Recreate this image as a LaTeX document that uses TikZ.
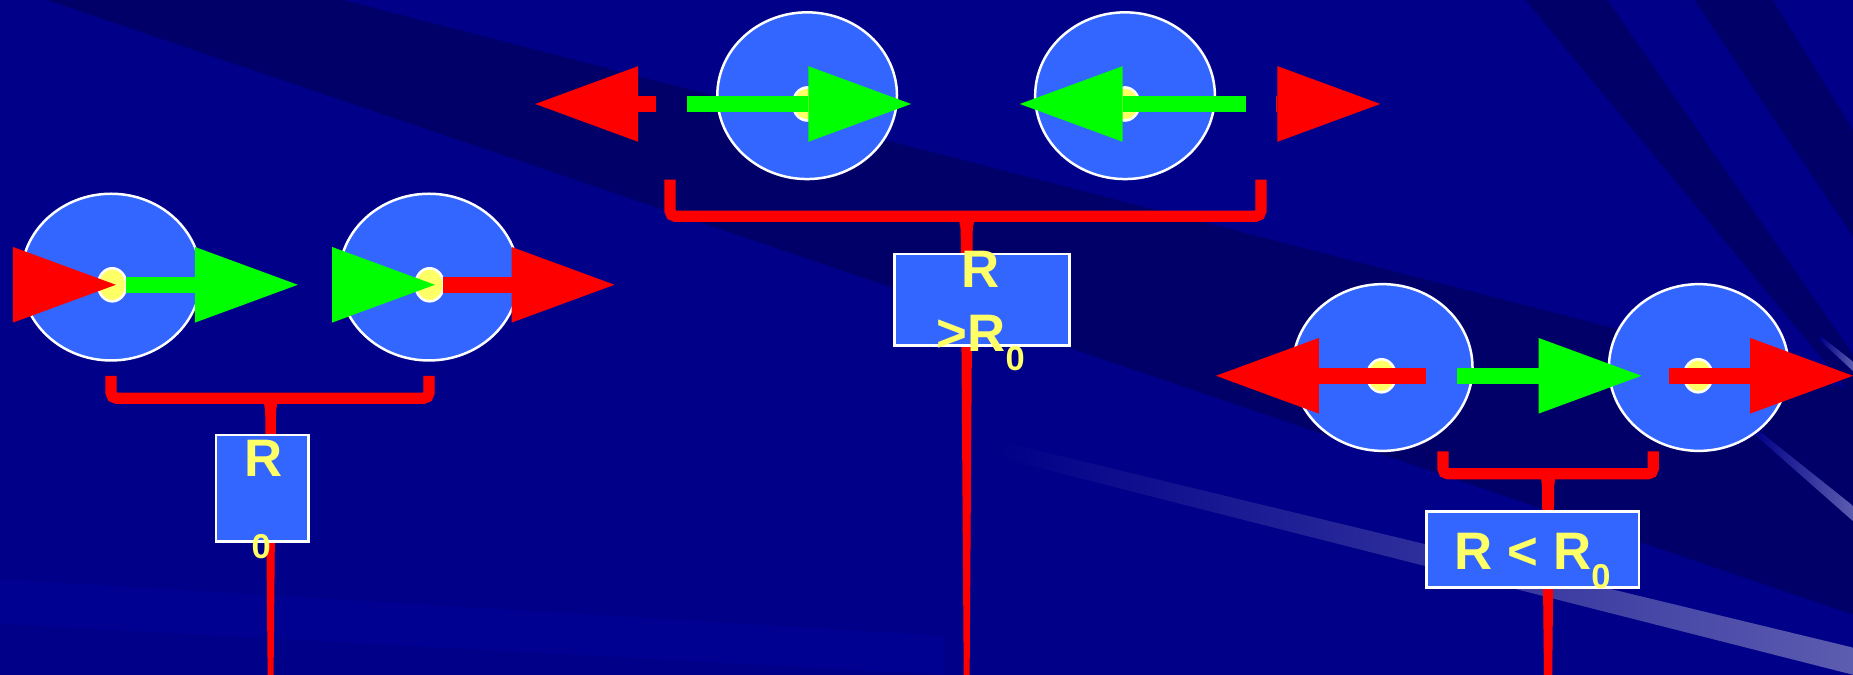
\documentclass[tikz,border=0pt]{standalone}
\usepackage{fontspec}
\setmainfont{Liberation Sans}
\usetikzlibrary{arrows.meta,shapes.geometric}

\definecolor{bgnavy}{RGB}{0,0,136}
\definecolor{bgdeep}{RGB}{0,0,104}
\definecolor{bglight}{RGB}{0,0,145}
\definecolor{beam}{RGB}{92,92,176}
\definecolor{ballblue}{RGB}{51,102,255}
\definecolor{dotyellow}{RGB}{255,255,102}
\definecolor{forcered}{RGB}{255,0,0}
\definecolor{forcegreen}{RGB}{0,255,0}

\newcommand{\subidx}[1]{\raisebox{-0.16cm}{\fontsize{8.3}{10}\selectfont #1}}
% tapered stem under a bracket: x, y of bar, top half width, neck half width, foot half width
\newcommand{\drawstem}[5]{%
  \fill[forcered] ({#1-#3},#2) .. controls ({#1-#4},{#2+8}) .. ({#1-#4},{#2+25})
    -- ({#1-#5},571) -- ({#1+#5},571) -- ({#1+#4},{#2+25})
    .. controls ({#1+#4},{#2+8}) .. ({#1+#3},#2) -- cycle;}

\tikzset{
  ball/.style={ellipse, draw=white, line width=0.6pt, fill=ballblue, inner sep=0pt,
    minimum width=1.52cm, minimum height=1.41cm},
  core/.style={ellipse, draw=white, line width=0.6pt, fill=dotyellow, inner sep=0pt,
    minimum width=0.24cm, minimum height=0.28cm},
  panel/.style={draw=white, line width=0.6pt, fill=ballblue, inner sep=0pt},
  txt/.style={text=dotyellow, inner sep=0pt, font=\bfseries\fontsize{12.7}{15.2}\selectfont},
  brace/.style={draw=forcered, line width=0.095cm, rounded corners=0.045cm},
  force/.style={line width=0.14cm, -{Triangle[length=0.87cm, width=0.64cm, line width=0pt]}},
  redforce/.style={force, draw=forcered},
  greenforce/.style={force, draw=forcegreen}
}

\begin{document}
\begin{tikzpicture}[x=0.01cm, y=-0.01cm]
\useasboundingbox (0,0) rectangle (1568,571);
\clip (0,0) rectangle (1568,571);

% background and beams
\fill[bgnavy] (0,0) rectangle (1568,571);
\fill[bglight] (0,490) -- (800,538) -- (800,571) -- (0,528) -- cycle;
\fill[bgdeep] (40,0) -- (290,0) -- (1568,330) -- (1568,520) -- cycle;
\fill[bgdeep] (1291,0) -- (1360,0) -- (1568,300) -- (1568,335) -- cycle;
\fill[bgdeep] (1434,0) -- (1500,0) -- (1568,110) -- (1568,200) -- cycle;
\shade[left color=bgnavy, right color=beam] (840,372) -- (1568,548) -- (1568,571) -- (840,386) -- cycle;
\shade[left color=bgnavy, right color=beam] (1484,361) -- (1568,428) -- (1568,441) -- (1484,367) -- cycle;
\shade[left color=bgnavy, right color=beam] (1540,284) -- (1568,306) -- (1568,314) -- (1540,288) -- cycle;

% brackets and stems
\draw[brace] (94,318) -- (94,337) -- (363,337) -- (363,318);
\draw[brace] (567,152) -- (567,183) -- (1067,183) -- (1067,152);
\draw[brace] (1221,382) -- (1221,401) -- (1399,401) -- (1399,382);
\drawstem{229}{337}{7}{4.5}{2.5}
\drawstem{818}{183}{8}{5}{2.5}
\drawstem{1310}{401}{7}{5}{3.5}

% boxes
\node[panel, minimum width=0.78cm, minimum height=0.90cm] (lbox) at (222,413) {};
\node[panel, minimum width=1.48cm, minimum height=0.775cm] (mbox) at (831,253.75) {};
\node[panel, minimum width=1.80cm, minimum height=0.64cm] (rbox) at (1297,465) {};
\node[txt, anchor=base] (ltop) at (222.7,403) {R};
\node[txt, anchor=base] (lsub) at (221,457) {\subidx{0}};
\node[txt, anchor=base] (mtop) at (830,243) {R};
\node[txt, anchor=base] (mlow) at (830,297.5) {>R\subidx{0}};
\node[txt, anchor=base] (rtxt) at (1297,482) {R < R\subidx{0}};

% pairs
\node[ball] (l1) at (94,234.5) {};
\node[ball] (l2) at (363,234.5) {};
\node[ball] (m1) at (683,81) {};
\node[ball] (m2) at (952,81) {};
\node[ball] (r1) at (1170,311) {};
\node[ball] (r2) at (1437.5,311) {};
\node[core] (l1c) at (95,241) {};
\node[core] (l2c) at (363.5,241) {};
\node[core] (m1c) at (683,88) {};
\node[core] (m2c) at (952,88) {};
\node[core] (r1c) at (1169,318) {};
\node[core] (r2c) at (1437,318) {};

% forces
\foreach \from/\to/\y in {11/98/241, 375/520/241, 555/453/88, 1080/1168/88, 1207/1029/318, 1412/1568/318}
  \draw[redforce] (\from,\y) -- (\to,\y);
\foreach \from/\to/\y in {107/252/241, 281/368/241, 581/771/88, 1054/863/88, 1233/1389/318}
  \draw[greenforce] (\from,\y) -- (\to,\y);
\end{tikzpicture}
\end{document}
